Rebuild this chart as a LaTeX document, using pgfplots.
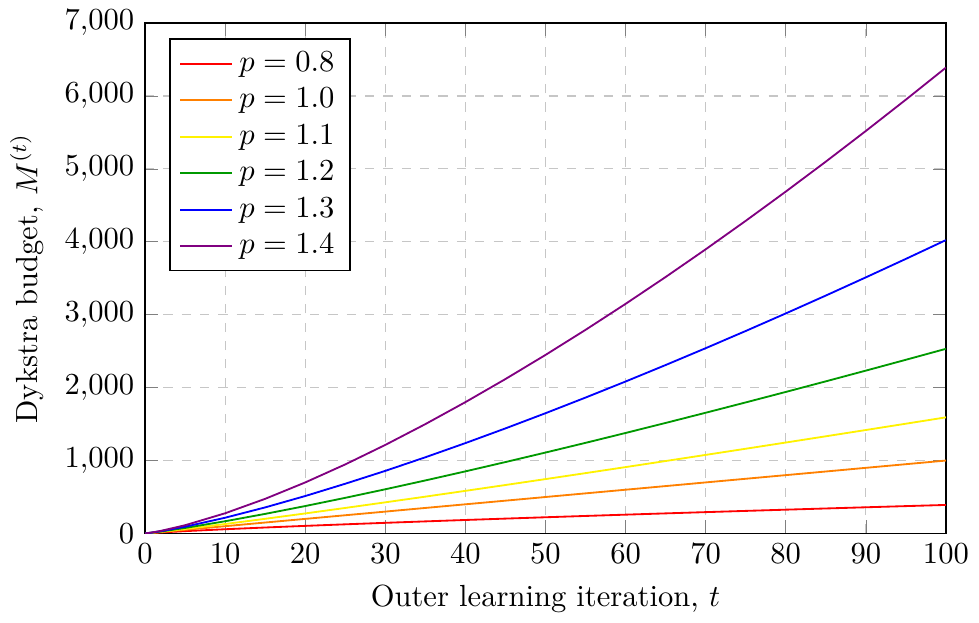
\documentclass[border=0pt]{standalone}
\usepackage{pgfplots}
\pgfplotsset{compat=1.18}
\usepackage{pgfplotstable}

\definecolor{curvegreen}{RGB}{0,153,0}
\definecolor{curvepurple}{RGB}{128,0,128}

% Dykstra budget M(t) for several growth exponents p
\pgfplotstableread{
t    p08     p10     p11     p12     p13     p14
0    0       0       0       0       0       0
1    7.41    10      11.44   12.97   14.62   16.39
2    14.08   20      23.48   27.37   31.71   36.56
5    31.93   50      61.77   75.86   92.71   112.86
10   58.09   100     129.81  167.69  215.85  277.05
15   81.90   150     201.12  268.58  357.58  475.03
20   104.23  200     274.73  376.06  513.46  699.74
25   125.51  250     350.14  488.84  681.97  947.10
30   145.99  300     427.02  606.07  858.49  1214.34
35   165.81  350     505.15  727.16  1044.86 1499.47
40   185.09  400     584.38  851.67  1239.16 1800.91
45   203.90  450     664.58  979.26  1440.72 2117.45
50   222.30  500     745.66  1109.65 1648.97 2448.07
55   240.35  550     827.54  1242.63 1863.45 2791.95
60   258.08  600     910.16  1378.01 2083.76 3148.33
65   275.52  650     993.45  1515.64 2309.55 3516.62
70   292.70  700     1077.38 1655.36 2540.55 3896.23
75   309.63  750     1161.91 1797.07 2776.48 4286.72
80   326.35  800     1246.99 1940.65 3017.11 4687.60
85   342.86  850     1332.60 2086.03 3262.24 5098.53
90   359.18  900     1418.71 2233.10 3511.73 5519.17
95   375.32  950     1505.30 2381.80 3765.29 5949.03
100  391.29  1000    1592.33 2532.05 4022.89 6388.06
}\budget

\begin{document}
\begin{tikzpicture}
\begin{axis}[
  scale only axis,
  width=262pt, height=167pt,
  xmin=0, xmax=100, ymin=0, ymax=7000,
  xtick={0,10,...,100},
  ytick={0,1000,...,7000},
  grid=major,
  major grid style={dashed, gray!45},
  axis line style={semithick},
  xlabel={Outer learning iteration, $t$},
  ylabel={Dykstra budget, $M^{(t)}$},
  legend pos=north west,
  legend cell align=left,
  legend style={draw=black, semithick},
  every axis plot/.append style={semithick, no marks},
]
\addplot[red]          table[x=t, y=p08] {\budget};
\addlegendentry{$p = 0.8$}
\addplot[orange]       table[x=t, y=p10] {\budget};
\addlegendentry{$p = 1.0$}
\addplot[yellow]       table[x=t, y=p11] {\budget};
\addlegendentry{$p = 1.1$}
\addplot[curvegreen]   table[x=t, y=p12] {\budget};
\addlegendentry{$p = 1.2$}
\addplot[blue]         table[x=t, y=p13] {\budget};
\addlegendentry{$p = 1.3$}
\addplot[curvepurple]  table[x=t, y=p14] {\budget};
\addlegendentry{$p = 1.4$}
\end{axis}
\end{tikzpicture}
\end{document}
